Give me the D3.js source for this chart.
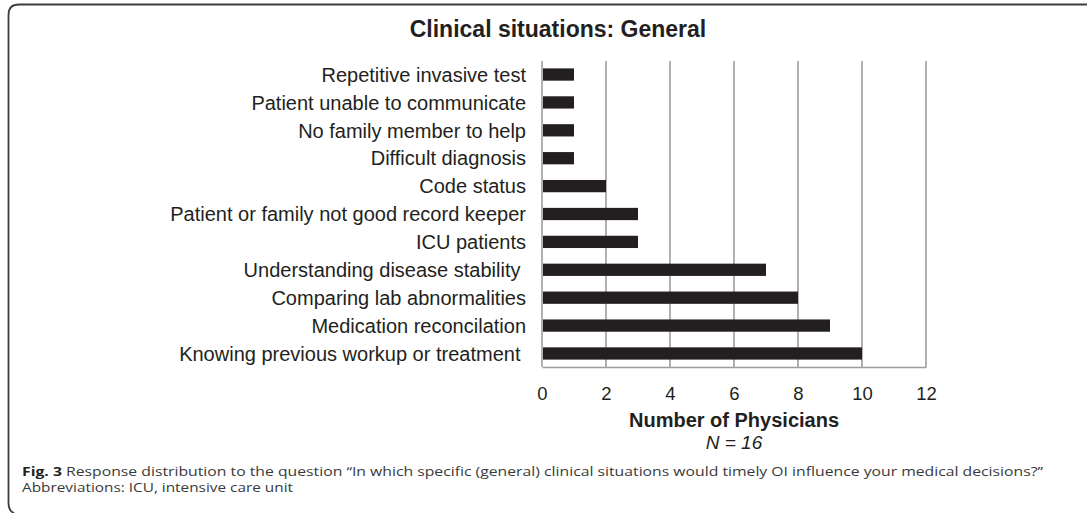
<!DOCTYPE html>
<html>
<head>
<meta charset="utf-8">
<script src="https://cdn.jsdelivr.net/npm/d3@7"></script>
<style>
  html, body { margin: 0; padding: 0; background: #fff; }
  svg { display: block; }
  .cat { white-space: pre; }
</style>
</head>
<body>
<svg id="chart" width="1087" height="513"></svg>
<script>
// ---- data ----
const categories = [
  "Repetitive invasive test",
  "Patient unable to communicate",
  "No family member to help",
  "Difficult diagnosis",
  "Code status",
  "Patient or family not good record keeper",
  "ICU patients",
  "Understanding disease stability ",
  "Comparing lab abnormalities",
  "Medication reconcilation",
  "Knowing previous workup or treatment "
];
const values = [1, 1, 1, 1, 2, 3, 3, 7, 8, 9, 10];
const tickValues = [0, 2, 4, 6, 8, 10, 12];
const chartTitle = "Clinical situations: General";
const xTitle = "Number of Physicians";
const nLabel = "N = 16";
const captionBold = "Fig. 3";
const captionRest = " Response distribution to the question \u201cIn which specific (general) clinical situations would timely OI influence your medical decisions?\u201d";
const captionLine2 = "Abbreviations: ICU, intensive care unit";

// ---- layout ----
const svg = d3.select("#chart");
const plot = { left: 542, right: 926, top: 61, bottom: 367 };
const ink = "#231f20";
const gridColor = "#9d9d9d";

svg.append("rect").attr("width", 1087).attr("height", 513).attr("fill", "#fff");

// frame (top + left, rounded corner)
svg.append("path")
  .attr("d", "M1087,4.5 H19 Q8.5,4.5 8.5,15 V503 Q8.5,511 14,513")
  .attr("fill", "none").attr("stroke", "#3c3c3c").attr("stroke-width", 1.8);

const x = d3.scaleLinear().domain([0, 12]).range([plot.left, plot.right]);
const y = d3.scaleBand().domain(categories).range([plot.top, plot.bottom])
  .paddingInner(0.56).paddingOuter(0.265);

// gridlines
svg.append("g").selectAll("line").data(tickValues.filter(d => d > 0)).join("line")
  .attr("x1", d => x(d)).attr("x2", d => x(d))
  .attr("y1", plot.top).attr("y2", plot.bottom)
  .attr("stroke", gridColor).attr("stroke-width", 1.6);

// left axis line
svg.append("line")
  .attr("x1", x(0)).attr("x2", x(0)).attr("y1", plot.top).attr("y2", plot.bottom)
  .attr("stroke", gridColor).attr("stroke-width", 1.6);

// bottom axis
const xAxis = svg.append("g")
  .attr("transform", `translate(0,${plot.bottom})`)
  .call(d3.axisBottom(x).tickValues(tickValues).tickSize(0).tickPadding(20).tickFormat(d3.format("d")));
xAxis.select(".domain").attr("stroke", gridColor).attr("stroke-width", 1.6);
xAxis.selectAll("text")
  .attr("font-family", "Liberation Sans, Arial, sans-serif")
  .attr("font-size", 18.5).attr("fill", ink).attr("dy", "0.71em");

// bars
svg.append("g").selectAll("rect").data(categories).join("rect")
  .attr("x", x(0) + 1)
  .attr("y", d => y(d))
  .attr("width", (d, i) => x(values[i]) - x(0) - 1)
  .attr("height", y.bandwidth())
  .attr("fill", ink);

// category labels
svg.append("g").selectAll("text").data(categories).join("text")
  .attr("class", "cat")
  .attr("x", 526)
  .attr("y", d => y(d) + y.bandwidth() / 2)
  .attr("dy", "0.36em")
  .attr("text-anchor", "end")
  .attr("font-family", "Liberation Sans, Arial, sans-serif")
  .attr("font-size", 20).attr("fill", ink)
  .text(d => d);

// title
svg.append("text")
  .attr("x", 558).attr("y", 37)
  .attr("text-anchor", "middle")
  .attr("font-family", "Liberation Sans, Arial, sans-serif")
  .attr("font-weight", "bold").attr("font-size", 23).attr("fill", ink)
  .text(chartTitle);

// axis title
svg.append("text")
  .attr("x", (plot.left + plot.right) / 2).attr("y", 427)
  .attr("text-anchor", "middle")
  .attr("font-family", "Liberation Sans, Arial, sans-serif")
  .attr("font-weight", "bold").attr("font-size", 20).attr("fill", ink)
  .text(xTitle);

svg.append("text")
  .attr("x", (plot.left + plot.right) / 2).attr("y", 449)
  .attr("text-anchor", "middle")
  .attr("font-family", "Liberation Sans, Arial, sans-serif")
  .attr("font-style", "italic").attr("font-size", 19).attr("fill", ink)
  .text(nLabel);

// caption
const cap1 = svg.append("text")
  .attr("x", 22).attr("y", 476)
  .attr("font-family", "Open Sans, Noto Sans, sans-serif")
  .attr("font-size", 12.5).attr("fill", "#3a3a3a")
  .attr("textLength", 1021).attr("lengthAdjust", "spacingAndGlyphs");
cap1.append("tspan").attr("font-weight", "bold").attr("fill", ink).text(captionBold);
cap1.append("tspan").style("white-space", "pre").text(captionRest);

svg.append("text")
  .attr("x", 22).attr("y", 492)
  .attr("font-family", "Open Sans, Noto Sans, sans-serif")
  .attr("font-size", 12.5).attr("fill", "#3a3a3a")
  .attr("textLength", 271).attr("lengthAdjust", "spacingAndGlyphs")
  .text(captionLine2);
</script>
</body>
</html>
